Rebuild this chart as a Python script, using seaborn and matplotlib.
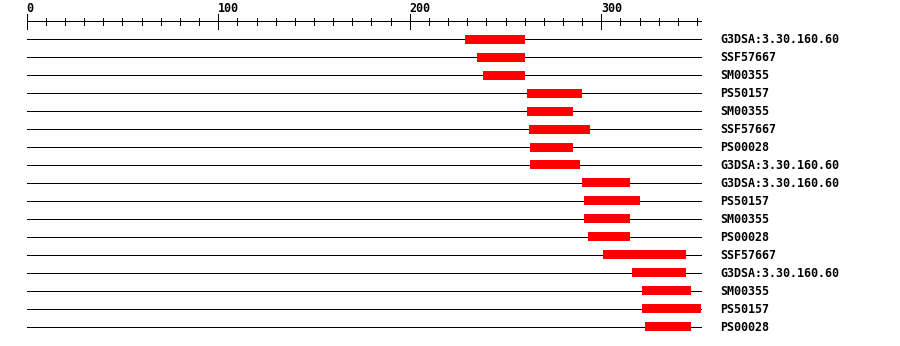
import numpy as np
import pandas as pd
import matplotlib
matplotlib.use("Agg")
import matplotlib.pyplot as plt
import seaborn as sns

# ---- data ----
labels = ["G3DSA:3.30.160.60", "SSF57667", "SM00355", "PS50157", "SM00355",
          "SSF57667", "PS00028", "G3DSA:3.30.160.60", "G3DSA:3.30.160.60",
          "PS50157", "SM00355", "PS00028", "SSF57667", "G3DSA:3.30.160.60",
          "SM00355", "PS50157", "PS00028"]
starts = [229, 235, 238, 261, 261, 262, 263, 263, 290, 291, 291, 293, 301, 316, 321, 321, 323]
ends = [260, 260, 260, 290, 285, 294, 285, 289, 315, 320, 315, 315, 344, 344, 347, 352, 347]
seq_length = 352
major_ticks = [0, 100, 200, 300]
minor_step = 10

df = pd.DataFrame({"label": labels, "start": starts, "end": ends})
df["row"] = np.arange(len(df))
df["width"] = df["end"] - df["start"]

sns.set_theme(style="white")
plt.rcParams["font.family"] = ["DejaVu Sans Mono", "DejaVu Sans"]

fig = plt.figure(figsize=(9.0, 3.46), dpi=100)
ax = fig.add_axes([0, 0, 1, 1])
px = 1.9153
ax.set_xlim(-26.7 / px, (900 - 26.7) / px)
ax.set_ylim((346 - 39) / 18, -39 / 18)
ax.axis("off")

lw = 0.6
# sequence lines
ax.hlines(df["row"], 0, seq_length, color="black", lw=lw, antialiased=False, zorder=1)
# domain bars
ax.barh(df["row"], df["width"], left=df["start"], height=0.5,
        color="#ff0000", edgecolor="none", antialiased=False, zorder=3)
# labels
for r, lab in zip(df["row"], df["label"]):
    ax.text((720 - 26.7) / px, r + 0.23, lab, ha="left", va="baseline",
            fontsize=8.4, fontweight="bold", color="black")

# ruler
ax.hlines(-1, 0, seq_length, color="black", lw=lw, antialiased=False)
minor = np.arange(0, seq_length + 1, minor_step)
ax.vlines([t for t in minor if t not in major_ticks], -1.15, -0.78,
          color="black", lw=lw, antialiased=False)
ax.vlines(major_ticks, -1.39, -0.55, color="black", lw=lw, antialiased=False)
for t in major_ticks:
    ax.text(t, -1.5, str(t), ha="left", va="baseline", fontsize=8.4,
            fontweight="bold", color="black")

fig.savefig("out.png", dpi=100)
